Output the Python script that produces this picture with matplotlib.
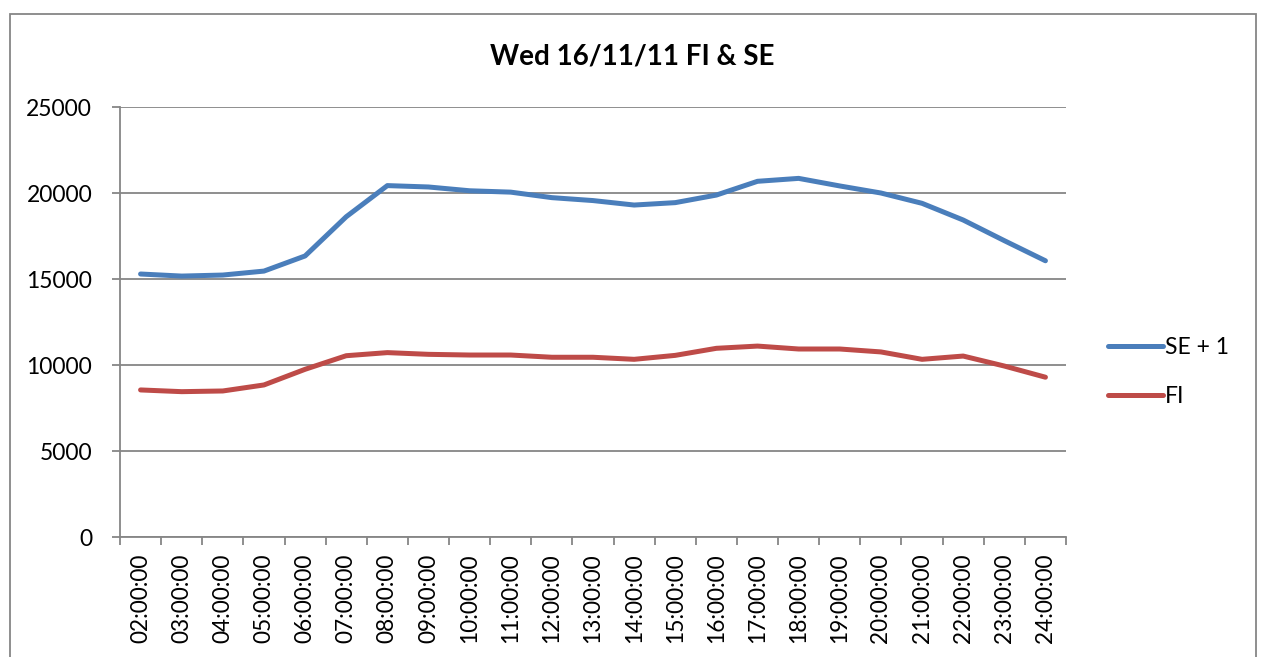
import numpy as np
import matplotlib.pyplot as plt
from matplotlib.patches import Rectangle

# Horas (categorias) e séries
hours = ['%02d:00:00' % h for h in range(2, 25)]
se_plus_1 = [15290, 15170, 15230, 15460, 16340, 18620, 20430, 20350, 20130, 20050,
             19730, 19560, 19300, 19440, 19880, 20680, 20850, 20410, 20000, 19400,
             18430, 17230, 16060]
fi = [8550, 8450, 8490, 8840, 9750, 10540, 10720, 10620, 10580, 10580,
      10450, 10450, 10330, 10560, 10970, 11100, 10930, 10930, 10760, 10330,
      10520, 9940, 9290]
y_ticks = [0, 5000, 10000, 15000, 20000, 25000]

plt.rcParams['font.family'] = ['Lato', 'DejaVu Sans']
grey = '#868686'

fig = plt.figure(figsize=(12.62, 6.57), dpi=100)
ax = fig.add_axes([120 / 1262, 1 - 537 / 657, (1066 - 120) / 1262, (537 - 107) / 657])

x = np.arange(len(hours))
ax.plot(x, se_plus_1, color='#4A7EBB', lw=3.6, solid_capstyle='round', label='SE + 1')
ax.plot(x, fi, color='#BE4B48', lw=3.6, solid_capstyle='round', label='FI')

ax.set_xlim(-0.5, len(hours) - 0.5)
ax.set_ylim(0, 25000)
ax.set_yticks(y_ticks)
ax.set_yticklabels([str(v) for v in y_ticks], fontsize=16.5)
ax.yaxis.grid(True, color=grey, lw=1.3)
ax.set_axisbelow(True)

# ticks entre categorias, rótulos no centro (estilo Excel)
ax.set_xticks(np.arange(-0.5, len(hours)), minor=False)
ax.set_xticklabels([])
ax.set_xticks(x, minor=True)
ax.set_xticklabels(hours, minor=True, rotation=90, fontsize=16.3)
ax.tick_params(axis='x', which='minor', length=0, pad=12)
ax.tick_params(axis='x', which='major', length=6, color=grey, width=1.3, direction='out')
ax.tick_params(axis='y', length=6, color=grey, width=1.3, direction='out', pad=14)

for s in ['top', 'right']:
    ax.spines[s].set_visible(False)
for s in ['left', 'bottom']:
    ax.spines[s].set_color(grey)
    ax.spines[s].set_linewidth(1.3)

fig.text(632 / 1262, 1 - 57 / 657, 'Wed 16/11/11 FI & SE', ha='center', va='center',
         fontsize=20, fontweight='bold')

leg = fig.legend(loc='center left', bbox_to_anchor=(1087 / 1262, 1 - 372 / 657),
                 frameon=False, fontsize=16.5, handlelength=2.4, handletextpad=0.1,
                 labelspacing=1.25)

# moldura do gráfico
fig.patches.append(Rectangle((10 / 1262, -0.05), (1256 - 10) / 1262, 1.05 - 14 / 657,
                             transform=fig.transFigure, fill=False, edgecolor=grey,
                             lw=1.3, clip_on=False))

fig.savefig('out.png', dpi=100)
